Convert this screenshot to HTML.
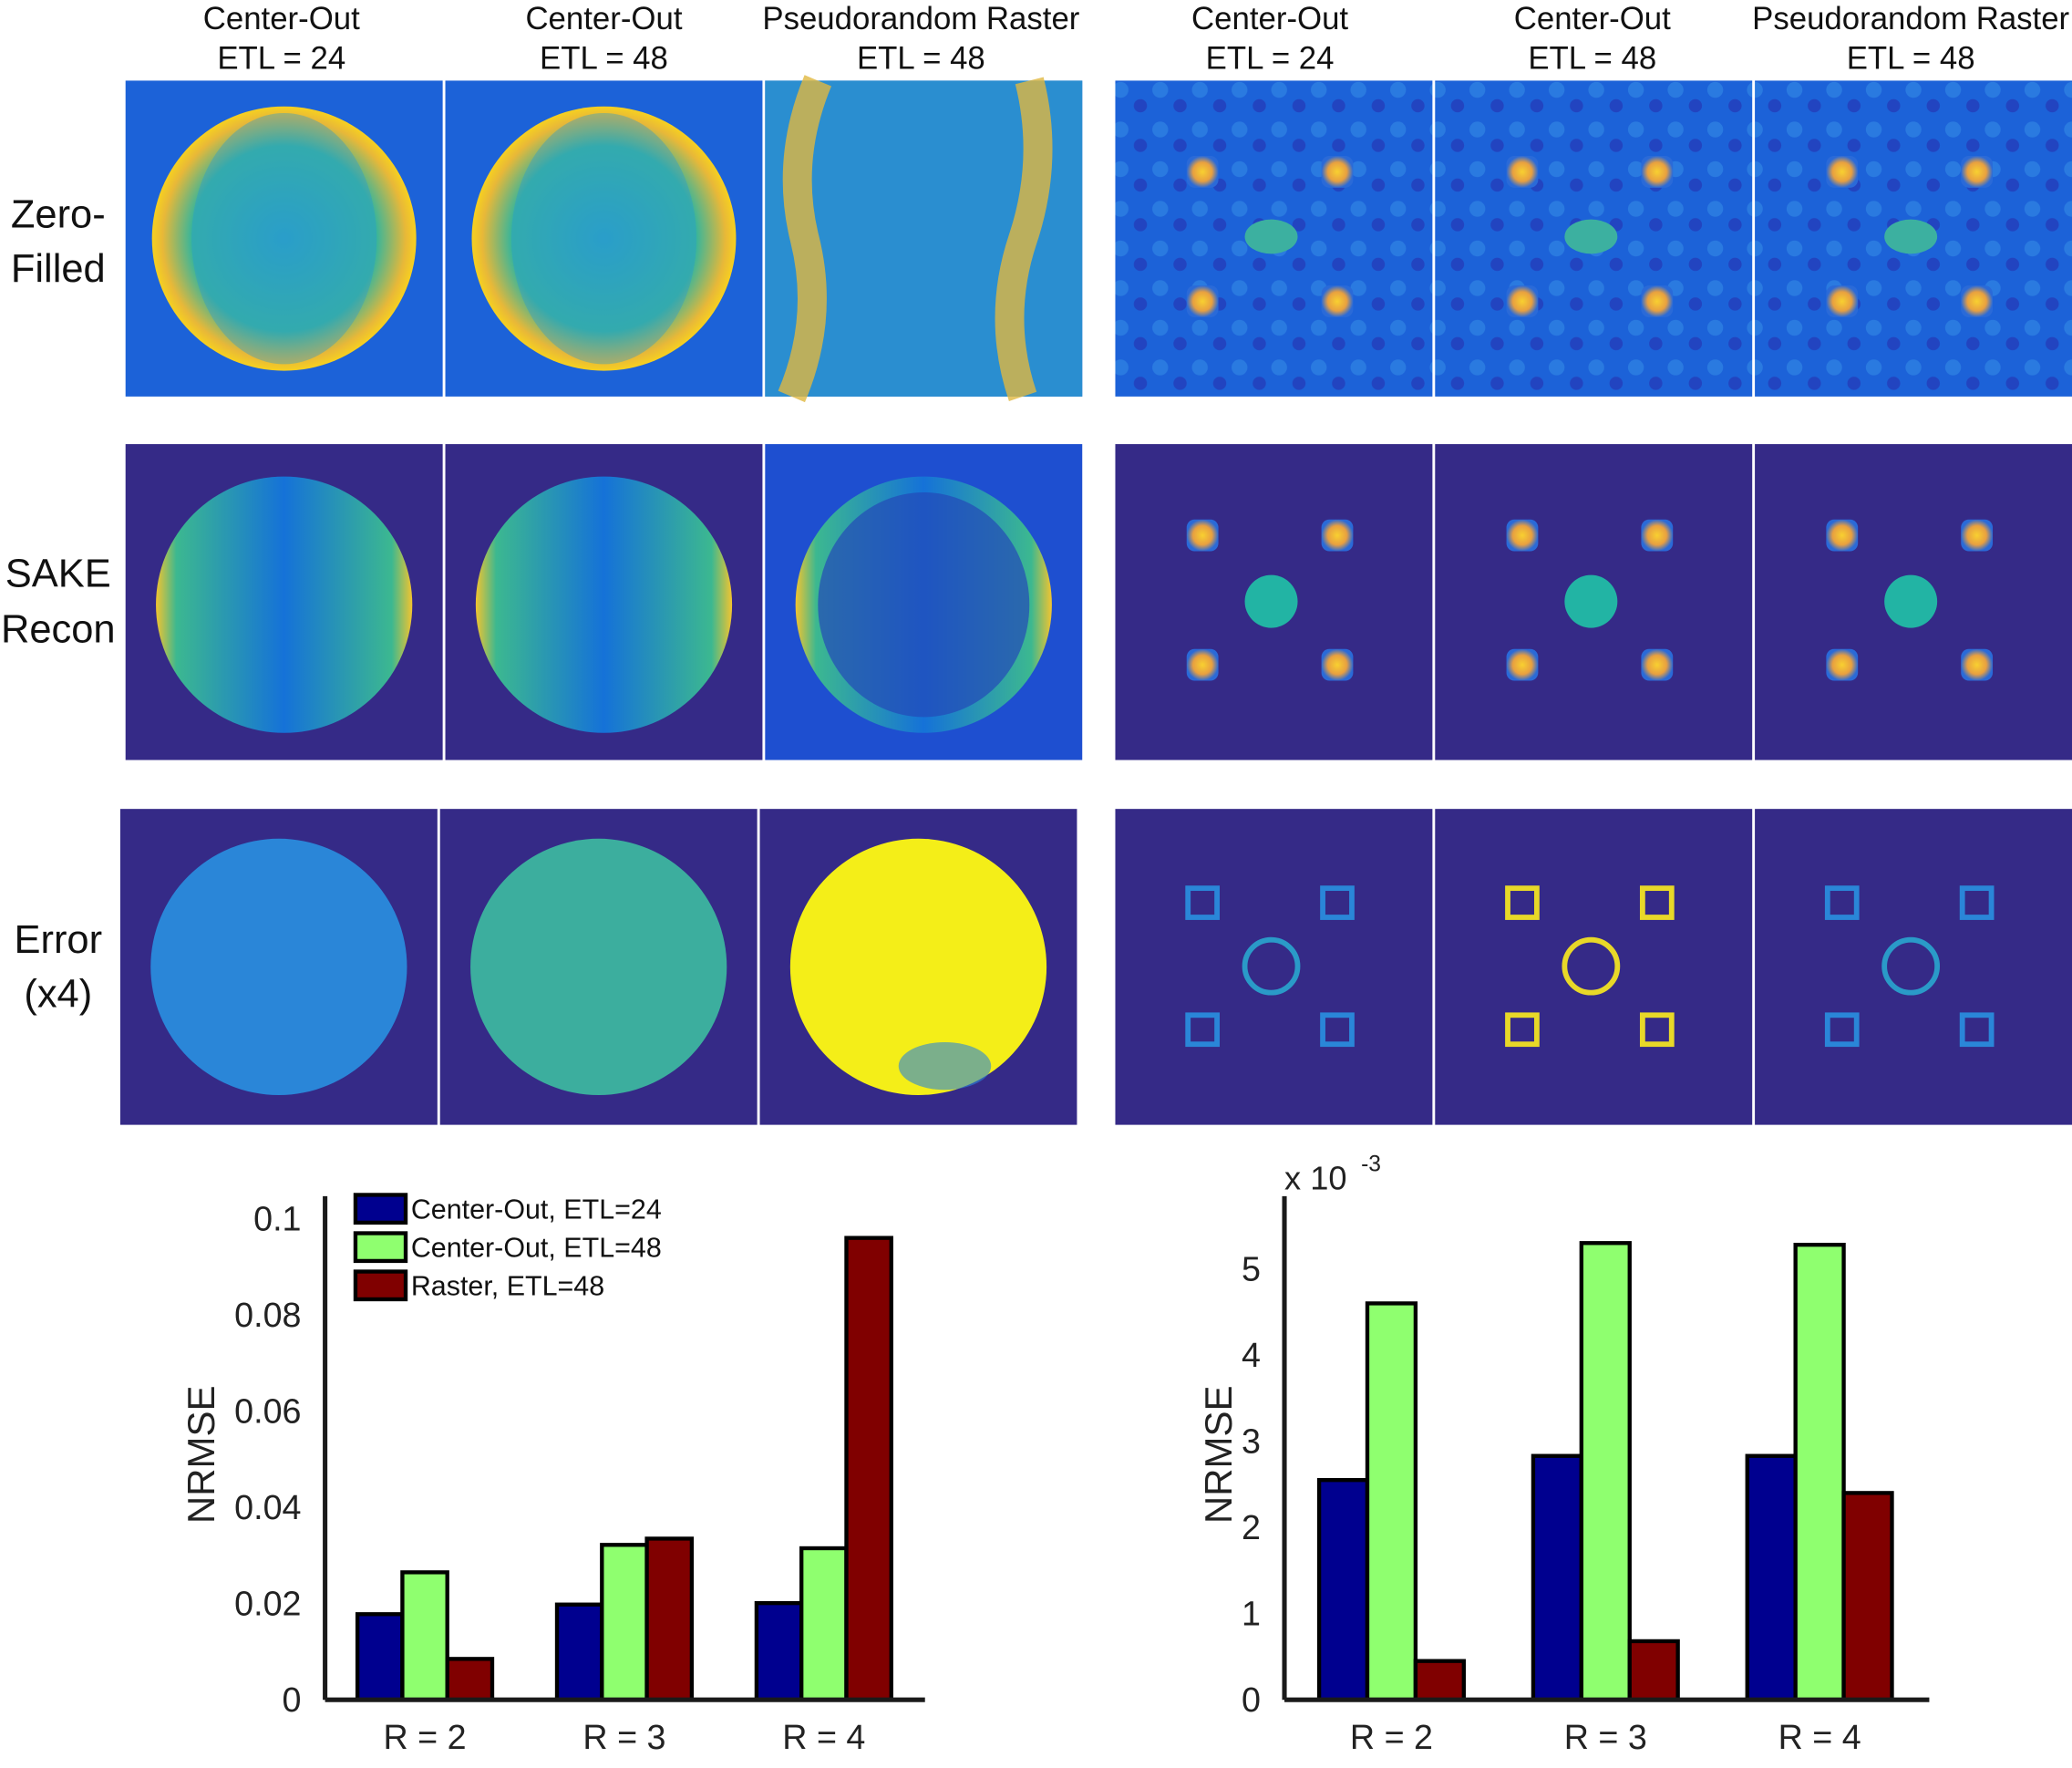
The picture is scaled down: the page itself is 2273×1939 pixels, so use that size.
<!DOCTYPE html>
<html><head><meta charset="utf-8"><style>
html,body{margin:0;padding:0;background:#fff;}
svg{display:block;font-family:"Liberation Sans",sans-serif;}
</style></head><body>
<svg id="fig" width="2273" height="1939" viewBox="0 0 1568 1337.6" preserveAspectRatio="none" xmlns="http://www.w3.org/2000/svg">
<defs>
<radialGradient id="zfL" cx="0.5" cy="0.5" r="0.5"><stop offset="0" stop-color="#2aa0c8"/><stop offset="0.7" stop-color="#39b59a"/><stop offset="0.92" stop-color="#e8b838"/><stop offset="1" stop-color="#f6d020"/></radialGradient>
<linearGradient id="srL" x1="0" x2="1"><stop offset="0" stop-color="#f2c430"/><stop offset="0.08" stop-color="#3cb890"/><stop offset="0.5" stop-color="#1572d8"/><stop offset="0.92" stop-color="#3cb890"/><stop offset="1" stop-color="#f2c430"/></linearGradient>
<radialGradient id="dot" cx="0.5" cy="0.5" r="0.5"><stop offset="0" stop-color="#f8d030"/><stop offset="0.6" stop-color="#e8a040"/><stop offset="1" stop-color="#2a6ad8"/></radialGradient>
<pattern id="mott" width="30" height="30" patternUnits="userSpaceOnUse"><rect width="30" height="30" fill="#1c62d8"/><circle cx="8" cy="8" r="6" fill="#2a7ae0"/><circle cx="23" cy="20" r="5" fill="#2244c0"/></pattern>
</defs>
<g id="panels"></g>
<g id="labels" font-size="24" fill="#111" text-anchor="middle"></g>
<g id="chartL"></g>
<g id="chartR"></g>
</svg>
<script>
const NS='http://www.w3.org/2000/svg';
function mk(parent,tag,attrs,txt){const e=document.createElementNS(NS,tag);for(const k in attrs)e.setAttribute(k,attrs[k]);if(txt!==undefined)e.textContent=txt;parent.appendChild(e);return e;}
const P=document.getElementById('panels');
const rowsY=[61,336,612];
const colsX=[[95,337,579],[844,1086,1328]];
const row3X=[[91,333,575],[844,1086,1328]];
for(let r=0;r<3;r++){for(let g=0;g<2;g++){for(let c=0;c<3;c++){
 const x=(r===2?row3X:colsX)[g][c], y=rowsY[r], w=240,h=239;
 const gp=mk(P,'g',{});
 
 
 let bg = r===0 ? (g===1?'url(#mott)':'#1c62d8') : '#352a87';
 if(r===1&&g===0&&c===2) bg='#1e4fd0';
 mk(gp,'rect',{x:x,y:y,width:w,height:h,fill:bg});
 const cx=x+w/2, cy=y+h/2;
 if(g===0){
  if(r===0){
   if(c<2){mk(gp,'ellipse',{cx:cx,cy:cy,rx:100,ry:100,fill:'url(#zfL)'});mk(gp,'ellipse',{cx:cx,cy:cy,rx:70,ry:95,fill:'#2a9acc',opacity:0.4});}
   else{mk(gp,'rect',{x:x,y:y,width:w,height:h,fill:'#2a8ed0'});
    mk(gp,'path',{d:'M'+(x+40)+' '+y+' q-25 60 -10 120 q15 60 -10 119',fill:'none',stroke:'#e0b840','stroke-width':22,opacity:0.8});
    mk(gp,'path',{d:'M'+(x+200)+' '+y+' q15 60 -5 120 q-20 60 0 119',fill:'none',stroke:'#e0b840','stroke-width':22,opacity:0.8});}
  } else if(r===1){
   mk(gp,'ellipse',{cx:cx,cy:cy+2,rx:97,ry:97,fill:'url(#srL)'});
   if(c===2) mk(gp,'ellipse',{cx:cx,cy:cy+2,rx:80,ry:85,fill:'#2448b8',opacity:0.7});
  } else {
   const f=c===0?'#2a86d8':(c===1?'#3cae9e':'#f4ee18');
   mk(gp,'ellipse',{cx:cx,cy:cy,rx:97,ry:97,fill:f});
   if(c===2) mk(gp,'ellipse',{cx:cx+20,cy:cy+75,rx:35,ry:18,fill:'#2a86d8',opacity:0.6});
  }
 } else {
  const dx=[66,168], dyr=r===0?[69,167]:(r===1?[69,167]:[71,167]);
  for(const a of dx)for(const b of dyr){
   if(r===2) mk(gp,'rect',{x:x+a-11,y:y+b-11,width:22,height:22,fill:'none',stroke:c===1?'#e8d828':'#2a86d8','stroke-width':4});
   else mk(gp,'rect',{x:x+a-12,y:y+b-12,width:24,height:24,fill:'url(#dot)',rx:6});
  }
  if(r===0) mk(gp,'ellipse',{cx:x+118,cy:y+118,rx:20,ry:13,fill:'#3cb0a0'});
  else if(r===1) mk(gp,'circle',{cx:x+118,cy:y+119,r:20,fill:'#22b4a4'});
  else mk(gp,'circle',{cx:x+118,cy:y+119,r:20,fill:'none',stroke:c===1?'#e8d828':'#2a9ac8','stroke-width':4});
 }
}}}
const L=document.getElementById('labels');
const heads=[[213,'Center-Out','ETL = 24'],[457,'Center-Out','ETL = 48'],[697,'Pseudorandom Raster','ETL = 48'],[961,'Center-Out','ETL = 24'],[1205,'Center-Out','ETL = 48'],[1446,'Pseudorandom Raster','ETL = 48']];
heads.forEach((h,i)=>{const t=mk(L,'text',{x:h[0],y:22});
 mk(t,'tspan',{x:h[0],y:22},h[1]);mk(t,'tspan',{x:h[0],y:52},h[2]);});
const rl=[['Zero-','Filled',172,213],['SAKE','Recon',444,486],['Error','(x4)',721,762]];
rl.forEach((r,i)=>{const t=mk(L,'text',{x:44,y:r[2],'font-size':30});
 mk(t,'tspan',{x:44,y:r[2]},r[0]);mk(t,'tspan',{x:44,y:r[3]},r[1]);});

// ---- chart data ----
const categories=['R = 2','R = 3','R = 4'];
const seriesNames=['Center-Out, ETL=24','Center-Out, ETL=48','Raster, ETL=48'];
const seriesColors=['#00008f','#8fff6f','#800000'];
const leftCO24=[0.0178,0.0198,0.0201];
const leftCO48=[0.0265,0.0322,0.0315];
const leftRaster=[0.0085,0.0335,0.096];
const leftTicks=[0,0.02,0.04,0.06,0.08,0.1];
const leftTickLabels=['0','0.02','0.04','0.06','0.08','0.1'];
const rightCO24=[2.55,2.83,2.83];
const rightCO48=[4.6,5.3,5.28];
const rightRaster=[0.45,0.68,2.4];
const rightTicks=[0,1,2,3,4,5];
const rightTickLabels=['0','1','2','3','4','5'];

function chart(gid,name,opts){
 const G=document.getElementById(gid);
 
 const y=v=>opts.y0-(v-opts.ymin)/(opts.ymax-opts.ymin)*(opts.y0-opts.yTop);
 const xc=i=>opts.x0+opts.gap*(i+0.5);
 const series=[opts.s1,opts.s2,opts.s3];
 series.forEach((s,si)=>s.forEach((v,i)=>{
  const bx=xc(i)-1.5*opts.bw+si*opts.bw;
  const b=mk(G,'rect',{x:bx,y:y(v),width:opts.bw,height:y(0)-y(v),fill:seriesColors[si],stroke:'#000','stroke-width':3});
  
  
 }));
 const ya=mk(G,'line',{x1:opts.x0,y1:opts.axTop,x2:opts.x0,y2:opts.y0,stroke:'#1a1a1a','stroke-width':3.5});
 
 const xa=mk(G,'line',{x1:opts.x0,y1:opts.y0,x2:opts.x1,y2:opts.y0,stroke:'#1a1a1a','stroke-width':3.5});
 
 opts.ticks.forEach((t,i)=>{const e=mk(G,'text',{x:opts.x0-18,y:y(t)+9,'text-anchor':'end','font-size':26,fill:'#222'},opts.tickLabels[i]);
  });
 categories.forEach((c,i)=>{const e=mk(G,'text',{x:xc(i),y:opts.y0+37,'text-anchor':'middle','font-size':26,fill:'#222'},c);
  });
 const yt=mk(G,'text',{x:0,y:0,transform:'translate('+opts.ylx+','+((opts.y0+opts.axTop)/2+5)+') rotate(-90)','text-anchor':'middle','font-size':29,fill:'#222'},'NRMSE');
 
}
chart('chartL','left-bar-chart',{x0:246,x1:700,y0:1286,yTop:922,ymin:0,ymax:0.1,axTop:905,gap:151,bw:34,s1:leftCO24,s2:leftCO48,s3:leftRaster,ticks:leftTicks,tickLabels:leftTickLabels,ylx:162});
chart('chartR','right-bar-chart',{x0:972,x1:1460,y0:1286,yTop:960,ymin:0,ymax:5,axTop:905,gap:162,bw:36.5,s1:rightCO24,s2:rightCO48,s3:rightRaster,ticks:rightTicks,tickLabels:rightTickLabels,ylx:932});
const GL=document.getElementById('chartL');
const lg=mk(GL,'g',{});

seriesNames.forEach((n,i)=>{
 const e=mk(lg,'rect',{x:269,y:904+i*29,width:38,height:21,fill:seriesColors[i],stroke:'#000','stroke-width':3});
 
 const t=mk(lg,'text',{x:311,y:922+i*29,'font-size':21,fill:'#111'},n);
 
});
const GR=document.getElementById('chartR');
const ex=mk(GR,'text',{x:972,y:900,'font-size':25,fill:'#222'},'x 10');

const ex2=mk(GR,'text',{x:1030,y:886,'font-size':17,fill:'#222'},'-3');

</script>
</body></html>
